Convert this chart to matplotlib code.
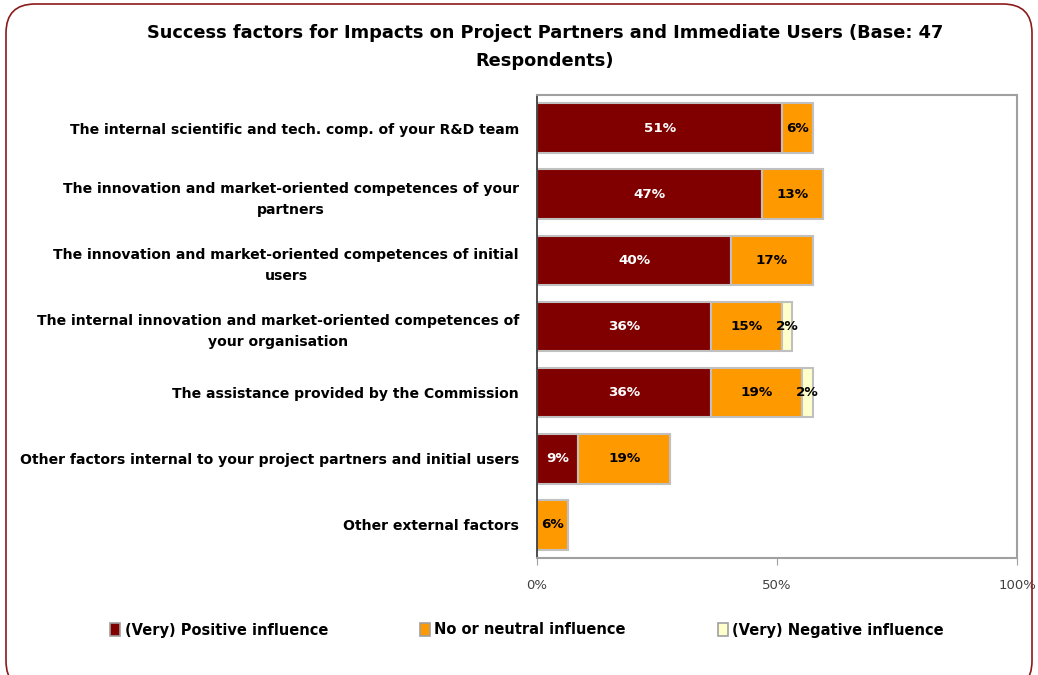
import matplotlib
matplotlib.use("Agg")
import matplotlib.pyplot as plt
from matplotlib.patches import FancyBboxPatch, Patch
import numpy as np

categories = [
    "The internal scientific and tech. comp. of your R&D team",
    "The innovation and market-oriented competences of your\npartners",
    "The innovation and market-oriented competences of initial\nusers",
    "The internal innovation and market-oriented competences of\nyour organisation",
    "The assistance provided by the Commission",
    "Other factors internal to your project partners and initial users",
    "Other external factors",
]
positive = [51.1, 46.8, 40.4, 36.2, 36.2, 8.6, 0.0]
neutral = [6.4, 12.8, 17.0, 14.9, 19.1, 19.1, 6.4]
negative = [0.0, 0.0, 0.0, 2.1, 2.1, 0.0, 0.0]
series_names = ["(Very) Positive influence", "No or neutral influence", "(Very) Negative influence"]
colors = ["#800000", "#FF9900", "#FFFFCC"]
label_colors = ["white", "black", "black"]
title = "Success factors for Impacts on Project Partners and Immediate Users (Base: 47\nRespondents)"

fig = plt.figure(figsize=(10.38, 6.75), dpi=100)
ax = fig.add_axes([537/1038, 1-558/675, (1017-537)/1038, (558-95)/675])

y = np.arange(len(categories))
left = np.zeros(len(categories))
for vals, c, lc in zip([positive, neutral, negative], colors, label_colors):
    vals = np.array(vals)
    ax.barh(y, vals, left=left, height=0.75, color=c, edgecolor="#C0C0C0", linewidth=1.5)
    for yi, v, l in zip(y, vals, left):
        if v > 0:
            ax.text(l + v/2, yi, f"{v:.0f}%", ha="center", va="center", color=lc,
                    fontsize=9.7, fontweight="bold")
    left = left + vals

ax.set_xlim(0, 100)
ax.set_ylim(len(categories)-0.5, -0.5)
ax.set_yticks(y)
ax.set_yticklabels(categories, fontsize=10.1, fontweight="bold", multialignment="center")
for t in ax.get_yticklabels():
    t.set_linespacing(1.65)
ax.tick_params(axis="y", length=0, pad=13)
ax.set_xticks([0, 50, 100])
ax.set_xticklabels(["0%", "50%", "100%"], fontsize=9.5, color="#404040")
ax.tick_params(axis="x", length=5, color="#A0A0A0", pad=10)
for s in ["top", "right", "bottom"]:
    ax.spines[s].set_color("#A0A0A0")
    ax.spines[s].set_linewidth(1.5)
ax.spines["left"].set_color("#303030")
ax.spines["left"].set_linewidth(1.2)

fig.text(545/1038, 1-47/675, title, ha="center", va="center", fontsize=12.8,
         fontweight="bold", linespacing=1.65)

handles = [Patch(facecolor=c, edgecolor="#A0A0A0", linewidth=1.2) for c in colors]
leg = fig.legend(handles, series_names, loc="center", bbox_to_anchor=(527/1038, 1-630/675),
                 ncol=3, frameon=False, fontsize=10.5, columnspacing=6.3,
                 handlelength=0.7, handleheight=0.9, handletextpad=0.3)
for t in leg.get_texts():
    t.set_fontweight("bold")

border = FancyBboxPatch((6/1038, -15/675), 1026/1038, (671+15)/675,
                        boxstyle="round,pad=0,rounding_size=0.028", transform=fig.transFigure,
                        facecolor="none", edgecolor="#8B1A1A", linewidth=1.2, mutation_aspect=1038/675)
fig.patches.append(border)

fig.savefig("out.png", dpi=100)
